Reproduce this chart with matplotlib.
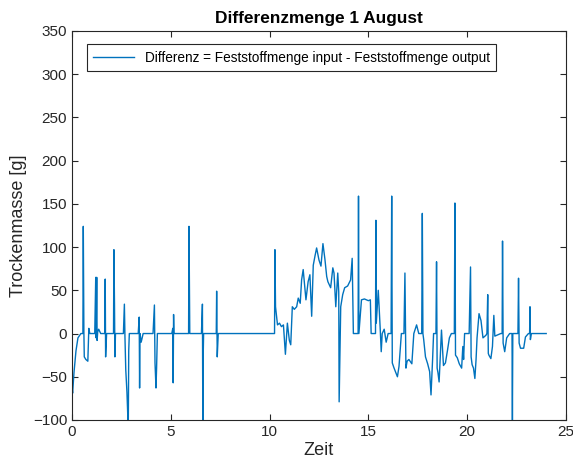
import matplotlib
matplotlib.use("Agg")
import matplotlib.pyplot as plt

plt.rcParams['font.family'] = ['Liberation Sans', 'DejaVu Sans']

# Zeit [h] und Differenz [g]
zeit = [0.0, 0.03, 0.1, 0.2, 0.3, 0.45, 0.55, 0.57, 0.6, 0.62, 0.7, 0.8, 0.85, 0.9, 1.0,
        1.15, 1.2, 1.22, 1.25, 1.27, 1.3, 1.35, 1.45, 1.6, 1.66, 1.68, 1.7, 1.75, 1.85,
        2.05, 2.1, 2.12, 2.15, 2.17, 2.2, 2.25, 2.4, 2.6, 2.65, 2.68, 2.72, 2.78, 2.83, 2.85, 2.87, 2.9, 3.0,
        3.35, 3.4, 3.42, 3.44, 3.5, 3.6, 4.1, 4.17, 4.2, 4.25, 4.28, 4.32, 4.4,
        5.05, 5.1, 5.12, 5.14, 5.16, 5.2, 5.85, 5.9, 5.92, 5.94, 5.96, 6.0,
        6.55, 6.6, 6.62, 6.64, 6.66, 6.7, 7.25, 7.3, 7.32, 7.35, 7.4, 7.45,
        10.2, 10.25, 10.27, 10.3, 10.4, 10.5, 10.6, 10.7, 10.8, 10.9, 11.0, 11.07, 11.15, 11.25, 11.37,
        11.45, 11.55, 11.62, 11.7, 11.84, 11.95, 12.04, 12.13, 12.21, 12.3, 12.38, 12.5, 12.6, 12.7,
        12.8, 12.89, 12.95, 13.09, 13.2, 13.26, 13.35, 13.45, 13.5, 13.52, 13.6, 13.7, 13.8, 13.95,
        14.1, 14.18, 14.24, 14.4, 14.48, 14.5, 14.52, 14.65, 14.8, 15.0, 15.1, 15.14, 15.3, 15.36, 15.38,
        15.4, 15.5, 15.6, 15.65, 15.7, 15.8, 15.9, 16.0, 16.15, 16.18, 16.21, 16.3, 16.47, 16.55, 16.67,
        16.8, 16.85, 16.88, 16.9, 16.96, 17.05, 17.2, 17.3, 17.44, 17.55, 17.7, 17.73, 17.76, 17.8,
        17.89, 18.0, 18.1, 18.17, 18.25, 18.3, 18.42, 18.45, 18.48, 18.52, 18.58, 18.7, 18.8, 18.9,
        19.0, 19.1, 19.2, 19.35, 19.38, 19.41, 19.5, 19.6, 19.72, 19.78, 19.82, 19.87, 20.1, 20.17,
        20.2, 20.25, 20.32, 20.39, 20.45, 20.5, 20.6, 20.7, 20.8, 20.95, 21.0, 21.04, 21.07, 21.1, 21.2,
        21.28, 21.35, 21.4, 21.7, 21.77, 21.79, 21.82, 21.9, 22.0, 22.15, 22.27, 22.29, 22.31, 22.45,
        22.57, 22.6, 22.63, 22.7, 22.86, 22.95, 23.1, 23.16, 23.18, 23.2, 23.25, 23.4, 24.0]
differenz = [-62, -69, -45, -20, -5, 0, 0, 124, 2, -27, -30, -32, 6, 0, 0,
             0, 65, -5, 65, -8, 2, 5, 0, 0, 0, 63, -27, 0, 0,
             0, 0, 97, 33, -27, 0, 0, 0, 0, 34, -5, -42, -68, -100, -100, -20, 0, 0,
             0, 19, -63, 0, -10, 0, 0, 33, -34, -63, -40, 0, 0,
             0, 6, -57, 22, 0, 0, 0, 0, 124, 63, 0, 0,
             0, 34, -100, -25, 0, 0, 0, 0, 49, -27, 0, 0,
             0, 0, 97, 31, 10, 12, 8, 10, -24, 12, -8, -13, 31, 28, 31,
             41, 35, 62, 74, 39, 60, 68, 20, 79, 90, 99, 85, 78, 104,
             86, 66, 60, 53, 76, 70, 31, 70, 48, -79, 31, 45, 53, 55,
             62, 87, 0, 0, 0, 159, 0, 39, 40, 38, 39, 0, 0, 0, 131,
             12, 50, 5, -21, 0, 5, -10, 0, 0, 159, -34, -40, -50, -38, 0,
             0, 70, 0, -40, -32, -30, -35, 0, 10, 0, 0, 139, 0, -7,
             -27, -35, -44, -71, -30, 0, 0, 83, -40, -45, -56, 4, -37, -34,
             -20, -5, 0, 0, 151, -25, -28, -35, -40, -15, -30, 0, 0, 77,
             -27, -36, -40, -52, -30, -5, 23, 15, -5, -2, 0, 45, -23, -25, -29,
             -15, 21, -3, 0, 0, 107, -11, -21, -5, 0, 0, -100, 0, 0,
             0, 64, -11, -17, -17, -4, 0, 0, 31, -7, 0, 0, 0]

fig = plt.figure(figsize=(5.73, 4.68), dpi=100)
ax = fig.add_axes([0.1257, 0.1026, 0.862, 0.8312])
ax.plot(zeit, differenz, color='#0072BD', linewidth=1.0,
        label='Differenz = Feststoffmenge input - Feststoffmenge output')

ax.set_xlim(0, 25)
ax.set_ylim(-100, 350)
ax.set_xticks([0, 5, 10, 15, 20, 25])
ax.set_yticks(range(-100, 351, 50))
ax.tick_params(direction='in', top=True, right=True, labelsize=11, colors='#262626', length=4)
for s in ax.spines.values():
    s.set_color('#262626')
    s.set_linewidth(0.8)

ax.set_xlabel('Zeit', fontsize=13, color='#262626', labelpad=2)
ax.set_ylabel('Trockenmasse [g]', fontsize=13, color='#262626', labelpad=4)
ax.set_title('Differenzmenge 1 August', fontsize=12.4, fontweight='bold', pad=6)

leg = ax.legend(loc='upper left', bbox_to_anchor=(0.016, 0.983), fontsize=9.8,
                fancybox=False, framealpha=1, edgecolor='#262626', handlelength=3.0,
                borderpad=0.45)
leg.get_frame().set_linewidth(0.8)

fig.savefig('out.png', dpi=100)
